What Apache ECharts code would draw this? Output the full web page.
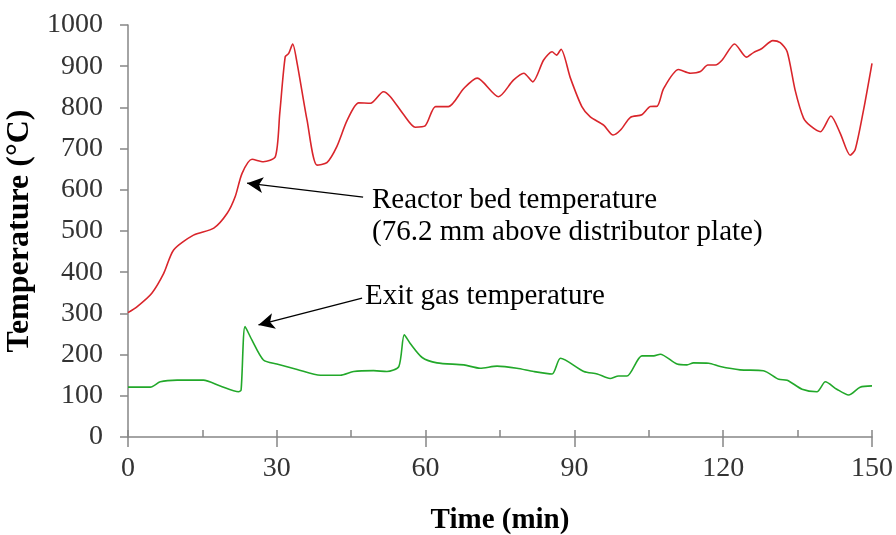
<!DOCTYPE html>
<html><head><meta charset="utf-8">
<script src="https://cdn.jsdelivr.net/npm/echarts@6/dist/echarts.min.js"></script>
<style>html,body{margin:0;padding:0;background:#fff}#c{width:896px;height:535px}</style>
</head><body><div id="c"></div>
<script>
var xTicks = [0, 30, 60, 90, 120, 150];
var yTicks = [0, 100, 200, 300, 400, 500, 600, 700, 800, 900, 1000];

var bedTime = [0,1.8,4.8,7.2,9.2,13.2,17.3,20,21.6,23,25,27.3,29.7,30.6,31.7,32.4,33.2,34.1,36.1,38.1,40.1,42.1,44.2,46.5,48.9,51.5,52.9,55.6,57.9,59.9,62,64.6,67.7,70.4,74.7,77.7,79.8,81.6,83.8,85.5,86.4,87.3,89.2,91.5,93.2,95.9,97.8,99.3,101.3,103.6,105.3,106.7,108,111,113.4,115.4,116.9,118.4,119.8,122.3,124.7,126.1,127.8,130,131.5,132.9,134.5,136.2,137.6,139.6,141.7,143.6,145.6,146.6,148.3,150];
var bedTemp = [302,316,349,397,454,490,507,543,583,640,674,668,680,786,923,931,954,907,769,660,666,705,769,811,810,838,826,782,752,755,802,802,846,871,826,866,883,862,915,935,927,941,871,802,777,757,733,745,776,782,802,803,846,892,883,887,903,903,915,954,922,933,943,962,957,935,842,774,755,741,779,737,684,697,794,907];

var gasTime = [0,4.5,6.5,9.9,15.2,18.6,22.3,22.8,23.6,25,27.3,30,34.1,38.8,42.8,45.5,49.5,52.2,54.6,55.7,56.9,59.3,62.3,67.7,71,74.4,78.4,81.8,85.5,87.2,91.9,94.6,97.2,98.9,100.6,103.6,106,107.3,110.7,112.7,114,117.1,119.4,123.4,128.1,131.2,132.9,135.9,138.9,140.6,142.9,145.3,147.6,150];
var gasTemp = [121,121,134,138,138,124,110,114,268,235,187,177,164,150,150,159,161,159,171,248,227,193,180,175,167,172,167,159,153,191,159,153,142,148,148,197,197,201,177,175,180,179,171,163,161,140,138,116,110,134,116,102,121,124];

var bedLabel1 = "Reactor bed temperature";
var bedLabel2 = "(76.2 mm above distributor plate)";
var gasLabel = "Exit gas temperature";
var bedArrow = [[47.4, 582], [24.0, 616]];
var gasArrow = [[47.2, 337], [26.3, 272]];

function zip(a, b) { return a.map(function (v, i) { return [v, b[i]]; }); }

var FONT = "Liberation Serif";
var chart = echarts.init(document.getElementById('c'), null, {renderer: 'canvas'});
var axisGrey = '#868686';
chart.setOption({
  animation: false,
  grid: {left: 128, right: 24, top: 25, bottom: 98, containLabel: false, outerBoundsMode: 'none'},
  xAxis: [{
    type: 'value', min: xTicks[0], max: xTicks[xTicks.length - 1], interval: 30,
    name: 'Time (min)', nameLocation: 'middle', nameGap: 69,
    nameTextStyle: {fontFamily: FONT, fontWeight: 'bold', fontSize: 29, color: '#000'},
    axisLine: {lineStyle: {color: axisGrey, width: 1.5}},
    axisTick: {show: true, inside: false, length: 10, lineStyle: {color: axisGrey, width: 1.5}},
    axisLabel: {fontFamily: FONT, fontSize: 28, color: '#333', margin: 18, formatter: function (v) { return String(v); }},
    splitLine: {show: false}
  }, {
    type: 'value', min: xTicks[0], max: xTicks[xTicks.length - 1], interval: 15, position: 'bottom',
    axisLine: {show: false},
    axisTick: {show: true, inside: true, length: 7, lineStyle: {color: axisGrey, width: 1.5}},
    axisLabel: {show: false}, splitLine: {show: false}
  }],
  yAxis: {
    type: 'value', min: yTicks[0], max: yTicks[yTicks.length - 1], interval: 100,
    name: 'Temperature (°C)', nameLocation: 'middle', nameGap: 79, nameRotate: 90,
    nameTextStyle: {fontFamily: FONT, fontWeight: 'bold', fontSize: 32, color: '#000'},
    axisLine: {show: true, lineStyle: {color: axisGrey, width: 1.5}},
    axisTick: {show: true, inside: false, length: 8, lineStyle: {color: axisGrey, width: 1.5}},
    axisLabel: {fontFamily: FONT, fontSize: 28, color: '#333', margin: 25, formatter: function (v) { return String(v); }},
    splitLine: {show: false}
  },
  series: [{
    type: 'line', data: zip(bedTime, bedTemp), showSymbol: false, smooth: 0.25,
    lineStyle: {color: '#D9252B', width: 1.6},
    markLine: {
      silent: true, symbol: ['none', 'arrow'], symbolSize: [12, 16],
      lineStyle: {color: '#000', width: 1.3, type: 'solid'}, label: {show: false},
      data: [[{coord: bedArrow[0]}, {coord: bedArrow[1]}], [{coord: gasArrow[0]}, {coord: gasArrow[1]}]]
    }
  }, {
    type: 'line', data: zip(gasTime, gasTemp), showSymbol: false, smooth: 0.25,
    lineStyle: {color: '#22A82A', width: 1.6}
  }],
  graphic: [
    {type: 'text', left: 372, top: 186, style: {text: bedLabel1, font: '29px "Liberation Serif"', fill: '#000'}},
    {type: 'text', left: 372, top: 218, style: {text: bedLabel2, font: '29px "Liberation Serif"', fill: '#000'}},
    {type: 'text', left: 365, top: 282, style: {text: gasLabel, font: '29px "Liberation Serif"', fill: '#000'}}
  ]
});
</script>
</body></html>
